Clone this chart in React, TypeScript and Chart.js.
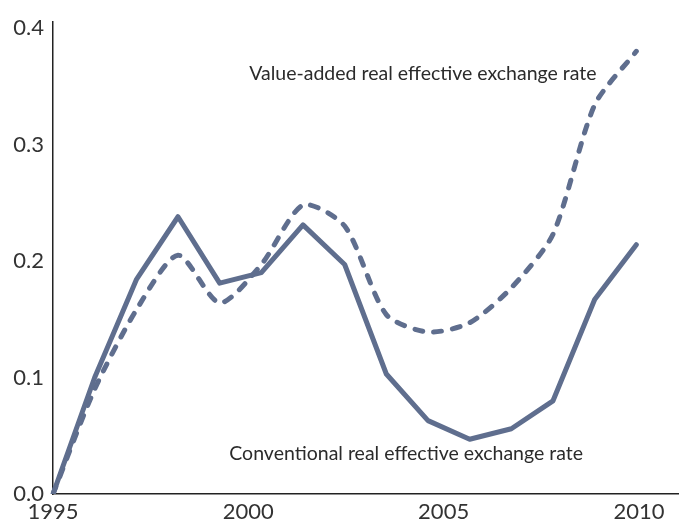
import React, { useEffect, useRef } from "react";
import { Chart, registerables } from "chart.js";

Chart.register(...registerables);

const pointLabels = ["1995","1996","1997","1998","1999","2000","2001","2002","2003","2004","2005","2006","2007","2008","2009",""];
const conventional = [0, 0.1, 0.184, 0.238, 0.181, 0.19, 0.231, 0.197, 0.103, 0.063, 0.047, 0.056, 0.08, 0.167, 0.214, null];
const valueAdded = [0, 0.09, 0.158, 0.205, 0.164, 0.197, 0.248, 0.23, 0.154, 0.139, 0.147, 0.177, 0.223, 0.334, 0.38, null];
const xTickYears = [1995, 2000, 2005, 2010];
const yTicks = [0, 0.1, 0.2, 0.3, 0.4];
const annotations = [
  { text: "Value-added real effective exchange rate", year: 2004.47, value: 0.361 },
  { text: "Conventional real effective exchange rate", year: 2004.04, value: 0.035 },
];

const LINE = "#5f6e8e";
const TEXT = "#2b2b2b";
const TICK = "#333333";
const FONT = "Lato";

const annotationPlugin = {
  id: "textAnnotations",
  afterDatasetsDraw(chart: any) {
    const ctx = chart.ctx;
    const xs = chart.scales.x2;
    const ys = chart.scales.y;
    ctx.save();
    ctx.font = `19.5px ${FONT}`;
    ctx.fillStyle = TEXT;
    ctx.textAlign = "center";
    ctx.textBaseline = "middle";
    for (const a of annotations) {
      ctx.fillText(a.text, xs.getPixelForValue(a.year), ys.getPixelForValue(a.value));
    }
    ctx.restore();
  },
};

export default function App() {
  const ref = useRef<HTMLCanvasElement>(null);
  useEffect(() => {
    document.body.style.margin = "0";
    const chart = new Chart(ref.current!, {
      type: "line",
      data: {
        labels: pointLabels,
        datasets: [
          {
            label: "Conventional real effective exchange rate",
            data: conventional,
            borderColor: LINE,
            borderWidth: 5,
            pointRadius: 0,
            tension: 0,
            borderJoinStyle: "round",
            borderCapStyle: "round",
            xAxisID: "x",
          },
          {
            label: "Value-added real effective exchange rate",
            data: valueAdded,
            borderColor: LINE,
            borderWidth: 5,
            pointRadius: 0,
            tension: 0.25,
            borderDash: [8, 11],
            borderJoinStyle: "round",
            borderCapStyle: "round",
            xAxisID: "x",
          },
        ],
      },
      options: {
        responsive: false,
        animation: false,
        layout: { padding: { top: 16, right: 4, left: 0, bottom: 0 } },
        plugins: { legend: { display: false }, tooltip: { enabled: false } },
        scales: {
          x: {
            type: "category",
            display: false,
            offset: false,
          },
          x2: {
            type: "linear",
            position: "bottom",
            min: 1995,
            max: 2011,
            afterBuildTicks: (scale: any) => {
              scale.ticks = xTickYears.map((v) => ({ value: v }));
            },
            afterFit: (scale: any) => {
              scale.height = 33;
            },
            grid: { display: false, drawTicks: false },
            border: { display: true, color: "#222", width: 1.5 },
            ticks: {
              color: TICK,
              font: { family: FONT, size: 22 },
              padding: 5,
              maxRotation: 0,
              callback: (v: any) => String(v),
            },
          },
          y: {
            type: "linear",
            min: 0,
            max: 0.405,
            afterBuildTicks: (scale: any) => {
              scale.ticks = yTicks.map((v) => ({ value: v }));
            },
            afterFit: (scale: any) => {
              scale.width = 53;
            },
            grid: { display: false, drawTicks: false },
            border: { display: true, color: "#222", width: 1.5 },
            ticks: {
              color: TICK,
              font: { family: FONT, size: 22 },
              padding: 9,
              callback: (v: any) => Number(v).toFixed(1),
            },
          },
        },
      },
      plugins: [annotationPlugin],
    } as any);
    return () => chart.destroy();
  }, []);
  return (
    <div style={{ width: 682, height: 527, background: "#fff" }}>
      <canvas ref={ref} width={682} height={527} />
    </div>
  );
}
